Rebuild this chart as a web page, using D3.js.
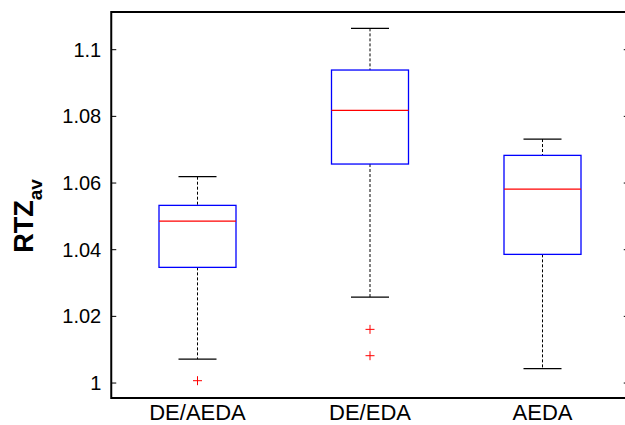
<!DOCTYPE html>
<html>
  <head>
    <script src="https://d3js.org/d3.v7.min.js"></script>
    <style>
      body { margin: 0; background: #fff; }
      svg { display: block; font-family: "Liberation Sans", Arial, sans-serif; }
      .tick-label { font-size: 20px; fill: #000; }
      .cat-label { font-size: 22px; fill: #000; }
    </style>
  </head>
  <body>
    <svg width="625" height="425"></svg>
    <script>
      const categories = ["DE/AEDA", "DE/EDA", "AEDA"];
      const whiskerLow = [1.0072, 1.0258, 1.0043];
      const q1 = [1.0347, 1.0657, 1.0386];
      const medians = [1.0486, 1.0818, 1.0582];
      const q3 = [1.0533, 1.0939, 1.0683];
      const whiskerHigh = [1.0619, 1.1064, 1.0732];
      const outliers = [[1.0007], [1.0161, 1.0082], []];
      const yTicks = [1, 1.02, 1.04, 1.06, 1.08, 1.1];

      const svg = d3.select("svg");
      const plotL = 111.25, plotR = 628.75, plotT = 12, plotB = 398;

      const x = d3.scalePoint().domain(categories).range([plotL, plotR]).padding(0.5);
      const y = d3.scaleLinear().domain([0.99551, 1.11131]).range([plotB, plotT]);

      const boxW = 77, capW = 38, tickLen = 5;

      const boxes = categories.map((c, i) => ({
        c, lo: whiskerLow[i], q1: q1[i], med: medians[i], q3: q3[i], hi: whiskerHigh[i], out: outliers[i]
      }));

      const g = svg.selectAll(".box").data(boxes).enter().append("g").attr("class", "box");

      // whiskers (dashed)
      g.append("line")
        .attr("x1", d => x(d.c)).attr("x2", d => x(d.c))
        .attr("y1", d => y(d.hi)).attr("y2", d => y(d.q3))
        .attr("stroke", "#000").attr("stroke-width", 1).attr("stroke-dasharray", "3,2");
      g.append("line")
        .attr("x1", d => x(d.c)).attr("x2", d => x(d.c))
        .attr("y1", d => y(d.q1)).attr("y2", d => y(d.lo))
        .attr("stroke", "#000").attr("stroke-width", 1).attr("stroke-dasharray", "3,2");

      // caps
      ["hi", "lo"].forEach(k => {
        g.append("line")
          .attr("x1", d => x(d.c) - capW / 2).attr("x2", d => x(d.c) + capW / 2)
          .attr("y1", d => y(d[k])).attr("y2", d => y(d[k]))
          .attr("stroke", "#000").attr("stroke-width", 1.3);
      });

      // box
      g.append("rect")
        .attr("x", d => x(d.c) - boxW / 2).attr("width", boxW)
        .attr("y", d => y(d.q3)).attr("height", d => y(d.q1) - y(d.q3))
        .attr("fill", "none").attr("stroke", "#0000ff").attr("stroke-width", 1.3);

      // median
      g.append("line")
        .attr("x1", d => x(d.c) - boxW / 2).attr("x2", d => x(d.c) + boxW / 2)
        .attr("y1", d => y(d.med)).attr("y2", d => y(d.med))
        .attr("stroke", "#ff0000").attr("stroke-width", 1.3);

      // outliers
      g.selectAll(".out").data(d => d.out.map(v => ({ c: d.c, v }))).enter()
        .append("path")
        .attr("class", "out")
        .attr("d", d => {
          const cx = x(d.c), cy = y(d.v), s = 4.5;
          return `M${cx - s},${cy}H${cx + s}M${cx},${cy - s}V${cy + s}`;
        })
        .attr("stroke", "#ff0000").attr("stroke-width", 1);

      // frame
      svg.append("rect")
        .attr("x", plotL).attr("y", plotT)
        .attr("width", plotR - plotL).attr("height", plotB - plotT)
        .attr("fill", "none").attr("stroke", "#000").attr("stroke-width", 2);

      // y ticks (inward, both sides)
      yTicks.forEach(t => {
        svg.append("line").attr("x1", plotL).attr("x2", plotL + tickLen)
          .attr("y1", y(t)).attr("y2", y(t)).attr("stroke", "#000").attr("stroke-width", 1);
        svg.append("line").attr("x1", plotR - tickLen).attr("x2", plotR)
          .attr("y1", y(t)).attr("y2", y(t)).attr("stroke", "#000").attr("stroke-width", 1);
      });

      svg.selectAll(".tick-label").data(yTicks).enter().append("text")
        .attr("class", "tick-label")
        .attr("x", plotL - 10).attr("y", d => y(d))
        .attr("dy", "0.35em")
        .attr("text-anchor", "end")
        .text(d => d3.format("~g")(d));

      svg.selectAll(".cat-label").data(categories).enter().append("text")
        .attr("class", "cat-label")
        .attr("x", d => x(d)).attr("y", 420)
        .attr("text-anchor", "middle")
        .text(d => d);

      // y axis title
      const title = svg.append("text")
        .attr("transform", "translate(33, 216) rotate(-90)")
        .attr("text-anchor", "middle")
        .style("font-weight", "bold")
        .style("font-size", "27px");
      title.append("tspan").text("RTZ");
      title.append("tspan").attr("dy", 9).style("font-size", "19px").text("av");
    </script>
  </body>
</html>
